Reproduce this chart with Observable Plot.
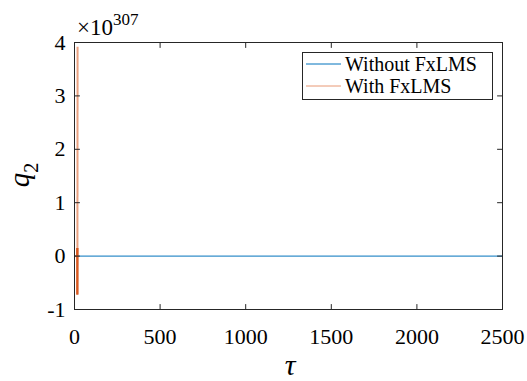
<!DOCTYPE html>
<html><head><meta charset="utf-8">
<script src="https://cdn.jsdelivr.net/npm/d3@7"></script>
<script src="https://cdn.jsdelivr.net/npm/@observablehq/plot@0.6"></script>
<style>
body{margin:0;background:#fff;}
#wrap{position:relative;width:527px;height:381px;}
#wrap svg{position:absolute;left:0;top:0;}
</style></head><body><div id="wrap"></div>
<script>
// Values of q2 in units of 10^307
const xTicks = [0, 500, 1000, 1500, 2000, 2500];
const yTicks = [-1, 0, 1, 2, 3, 4];
const tauWithout = [0, 2500];
const q2Without = [0, 0];
const tauWith = [0, 15, 16, 16, 17, 17, 18];
const q2With = [0, 0, 0.15, -0.72, 0.15, -0.72, 3.92];
const seriesNames = ["Without FxLMS", "With FxLMS"];
const seriesColors = ["#0072BD", "#D95319"];

const ink = "#262626";
const serif = "Liberation Serif";
const tickShape = {draw(ctx, l) { ctx.moveTo(0, 0); ctx.lineTo(0, -l); }};

const withoutData = tauWithout.map((t, i) => ({t, q: q2Without[i]}));
const segIdx = d3.range(tauWith.length - 1);

const chart = Plot.plot({
  width: 527, height: 381,
  marginLeft: 74, marginRight: 25, marginTop: 42, marginBottom: 72,
  x: {domain: [0, 2500]},
  y: {domain: [-1, 4]},
  style: {fontFamily: serif, fontSize: "22px", color: "#000", background: "#fff"},
  marks: [
    Plot.line(withoutData, {x: "t", y: "q", stroke: seriesColors[0], strokeWidth: 1}),
    Plot.link(segIdx, {
      x1: i => tauWith[i], y1: i => q2With[i],
      x2: i => tauWith[i + 1], y2: i => q2With[i + 1],
      stroke: seriesColors[1], strokeOpacity: 0.55, strokeWidth: 2
    }),
    Plot.frame({stroke: ink, strokeWidth: 1}),
    Plot.vector(xTicks, {x: d => d, y: -1, length: 5, rotate: 0, anchor: "start", shape: tickShape, stroke: ink, strokeWidth: 1}),
    Plot.vector(xTicks, {x: d => d, y: 4, length: 5, rotate: 180, anchor: "start", shape: tickShape, stroke: ink, strokeWidth: 1}),
    Plot.vector(yTicks, {x: 0, y: d => d, length: 5, rotate: 90, anchor: "start", shape: tickShape, stroke: ink, strokeWidth: 1}),
    Plot.vector(yTicks, {x: 2500, y: d => d, length: 5, rotate: -90, anchor: "start", shape: tickShape, stroke: ink, strokeWidth: 1}),
    Plot.axisX({ticks: xTicks, tickSize: 0, tickPadding: 19, tickFormat: d => String(d), label: null, fontSize: 22, fill: "#000"}),
    Plot.axisY({ticks: yTicks, tickSize: 0, tickPadding: 9, tickFormat: d => String(d), label: null, fontSize: 22, fill: "#000"})
  ]
});
document.getElementById("wrap").appendChild(chart);
d3.select(chart).selectAll("text").style("font-family", serif);

// Overlay: axis titles, exponent, legend
const ov = d3.select("#wrap").append("svg")
  .attr("width", 527).attr("height", 381).style("font-family", serif);

const ex = ov.append("text").attr("x", 77).attr("y", 35).attr("font-size", 23).attr("fill", "#000");
ex.append("tspan").text("×10");
ex.append("tspan").attr("font-size", 17).attr("dy", -10).text("307");

ov.append("text").attr("x", 290).attr("y", 375).attr("text-anchor", "middle")
  .attr("font-size", 30).attr("font-style", "italic").attr("fill", "#000").text("τ");

const yl = ov.append("text").attr("transform", "translate(29,175) rotate(-90)")
  .attr("text-anchor", "middle").attr("font-size", 29).attr("fill", "#000");
yl.append("tspan").attr("font-style", "italic").text("q");
yl.append("tspan").attr("font-size", 20).attr("dy", 9).text("2");

const lg = ov.append("g");
lg.append("rect").attr("x", 302.5).attr("y", 52.5).attr("width", 190).attr("height", 47)
  .attr("fill", "#fff").attr("stroke", ink).attr("stroke-width", 1);
seriesNames.forEach((name, i) => {
  const yb = 71 + i * 22;
  lg.append("line").attr("x1", 306).attr("x2", 341).attr("y1", yb - 7).attr("y2", yb - 7)
    .attr("stroke", seriesColors[i]).attr("stroke-width", 1).attr("stroke-opacity", i ? 0.6 : 1);
  lg.append("text").attr("x", 345).attr("y", yb).attr("font-size", 20).attr("fill", "#000").text(name);
});
ov.selectAll("text").style("font-family", serif);
</script>
</body></html>
